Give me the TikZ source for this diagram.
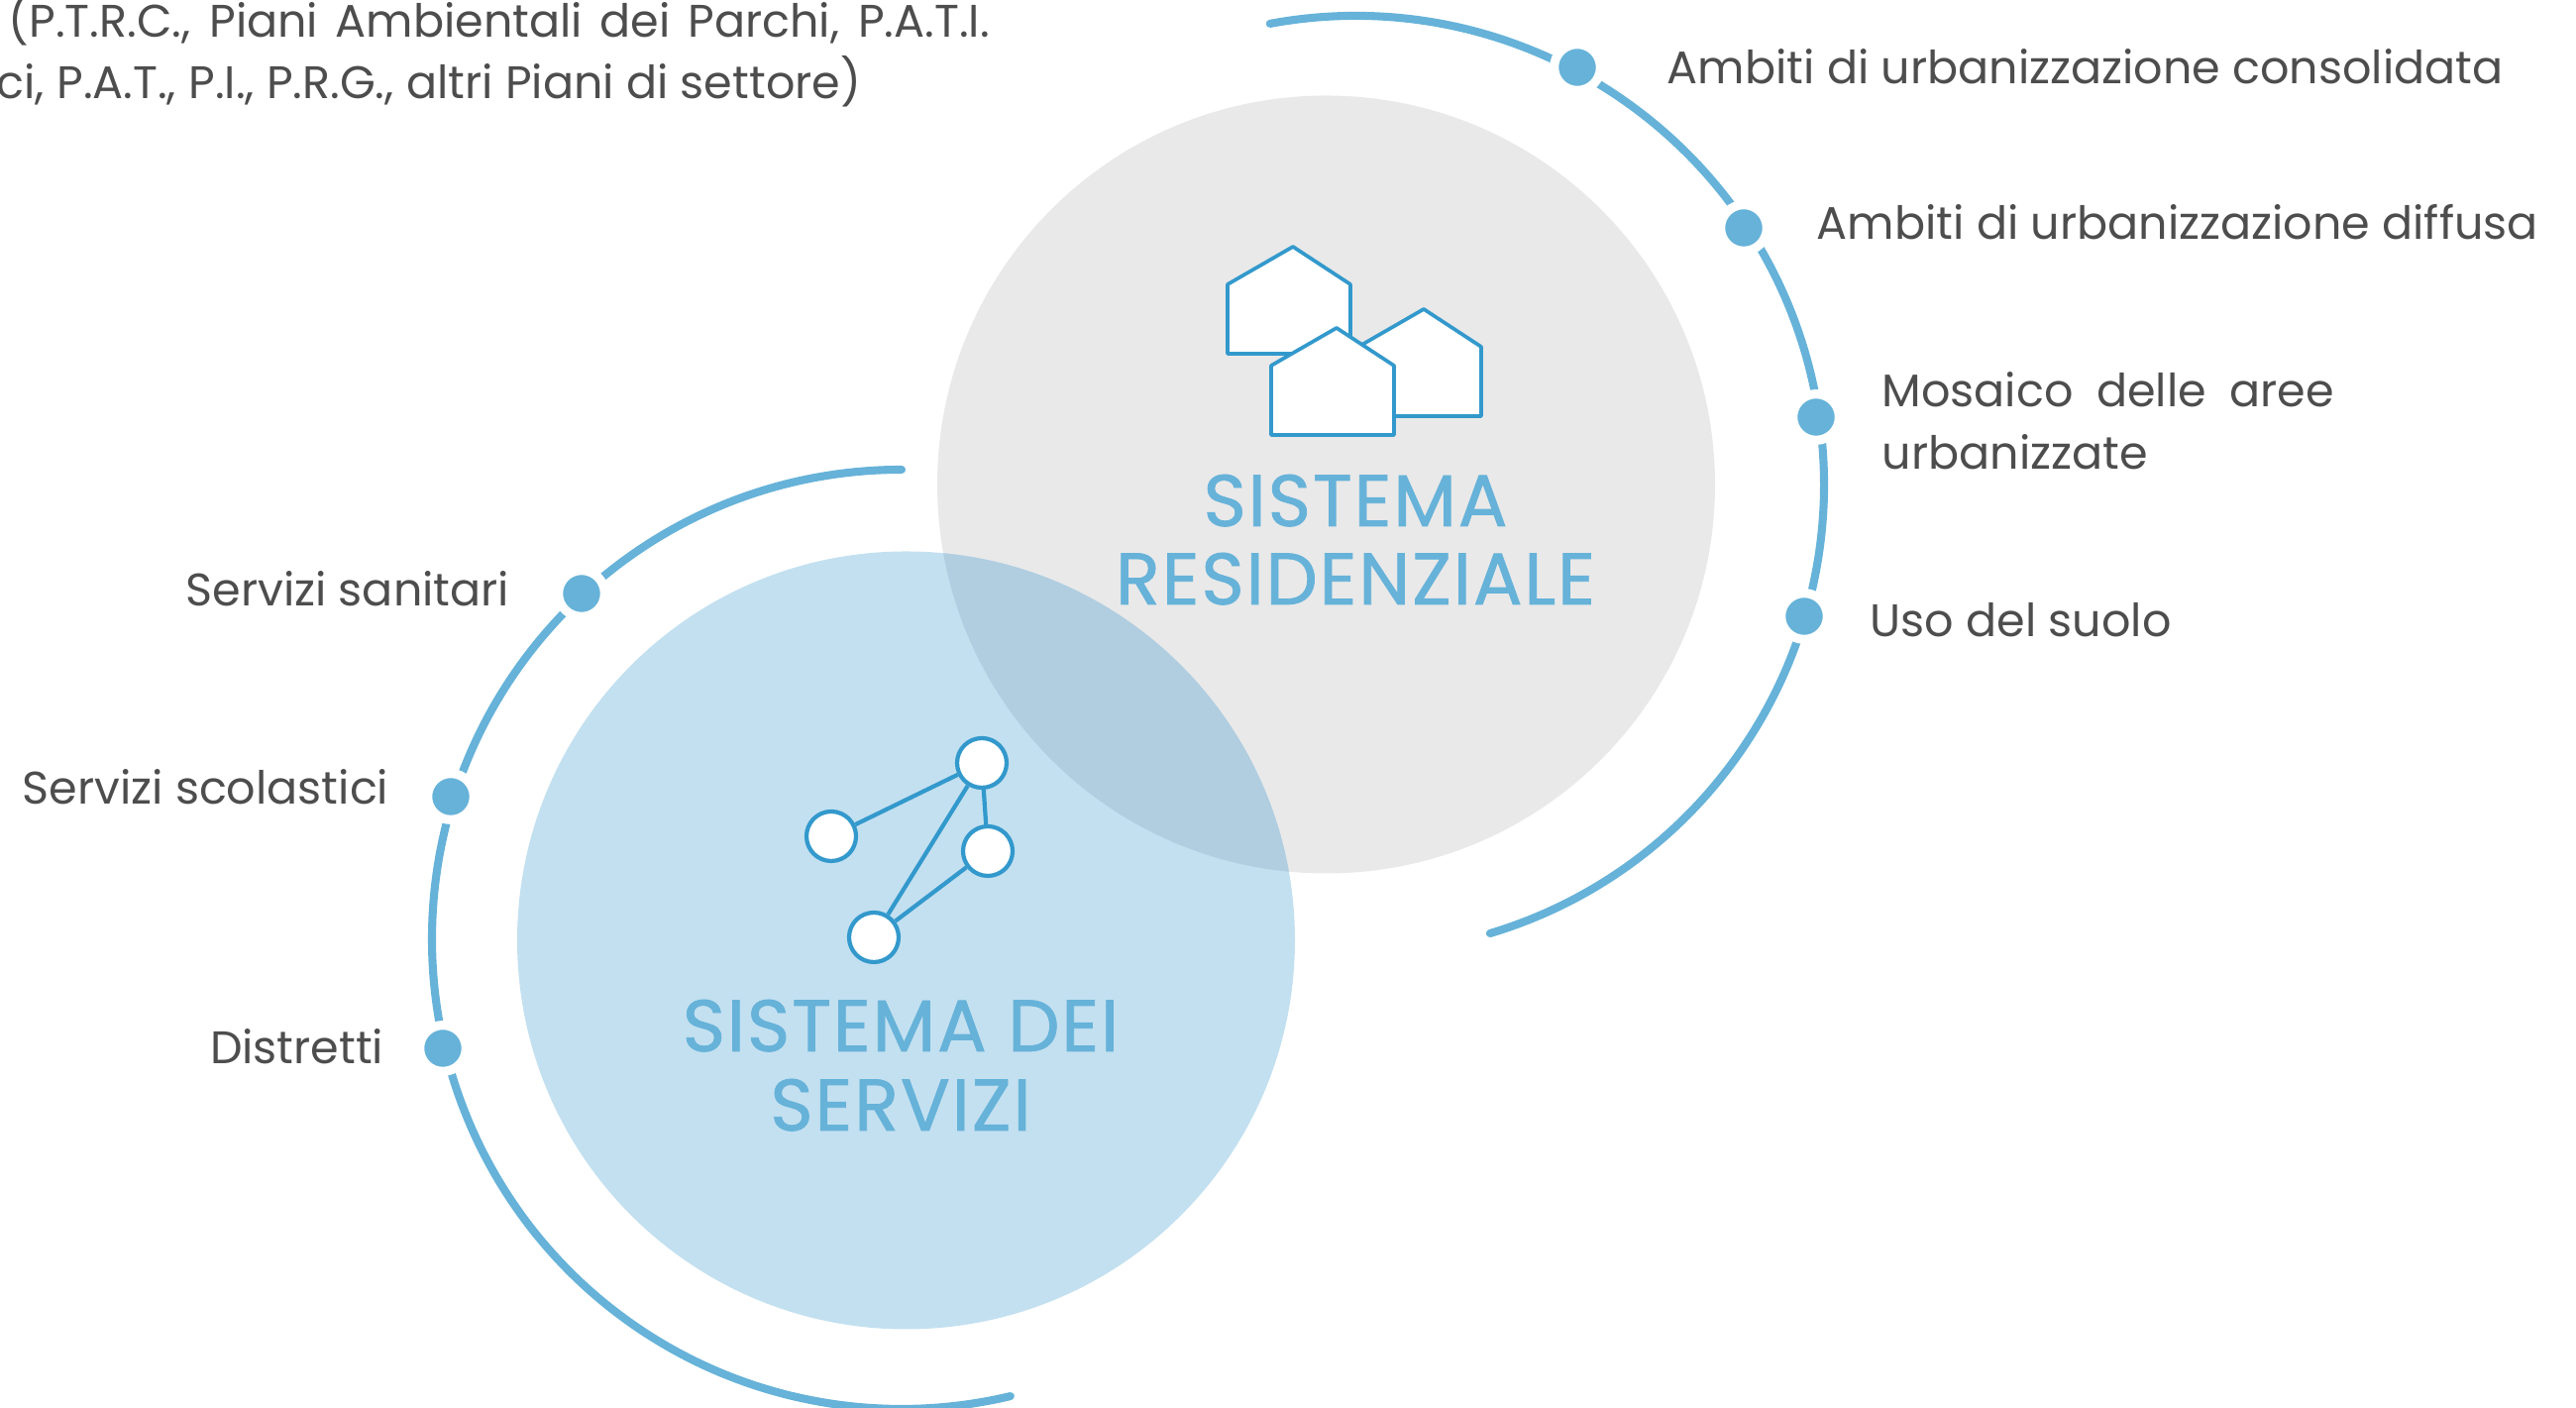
\documentclass[tikz,border=0pt]{standalone}
\usepackage{fontspec}
\setmainfont{Poppins}
\newfontfamily\headfont[FakeBold=1,LetterSpace=2.5]{Poppins}
\usepackage{tikz}
\definecolor{ringblue}{HTML}{66B2D9}
\definecolor{iconblue}{HTML}{3399CC}
\definecolor{softblue}{HTML}{C3E0F0}
\definecolor{softgrey}{HTML}{E9E9E9}
\definecolor{overlapblue}{HTML}{B1CDE0}
\definecolor{textgrey}{HTML}{4D4D4D}

\tikzset{
  disc/.style={circle,minimum size=7.85cm,inner sep=0pt},
  ringarc/.style={draw=ringblue,line width=2.3pt,line cap=round},
  ringdot/.style={circle,fill=ringblue,draw=white,line width=2.6pt,minimum size=1.46*0.32cm,inner sep=0pt},
  lbl/.style={text=textgrey,font=\fontsize{13.1}{17.9}\selectfont,inner sep=0pt},
  lblleft/.style={lbl,anchor=base east},
  lblright/.style={lbl,anchor=base west},
  heading/.style={text=ringblue,font=\headfont\fontsize{21}{22.6}\selectfont,inner sep=0pt,anchor=base},
  housebox/.style={draw=iconblue,fill=white,line width=1.05pt,line join=round},
  netnode/.style={circle,draw=iconblue,fill=white,line width=1.2pt,minimum size=0.5cm,inner sep=0pt},
  netedge/.style={draw=iconblue,line width=1.2pt}
}

\begin{document}
\begin{tikzpicture}

  \useasboundingbox (0,0) rectangle (26,14.21);
  \clip (0,0) rectangle (26,14.21);

  % the two systems
  \node [disc,fill=softgrey] (residenziale) at (13.385,9.32) {};
  \node [disc,fill=softblue] (servizi) at (9.145,4.72) {};
  \begin{scope}
    \clip (13.385,9.32) circle (3.925);
    \fill[overlapblue] (9.145,4.72) circle (3.925);
  \end{scope}

  \coordinate (resring) at (13.68,9.32);
  \coordinate (serring) at (9.10,4.73);
  \draw[ringarc] ([shift={(100.5:4.73)}]resring) arc (100.5:-73.3:4.73);
  \draw[ringarc] ([shift={(90:4.74)}]serring) arc (90:283.4:4.74);

  \node [ringdot] (dotconsolidata) at (15.92,13.53) {};
  \node [ringdot] (dotdiffusa)     at (17.60,11.91) {};
  \node [ringdot] (dotmosaico)     at (18.33,10.00) {};
  \node [ringdot] (dotsuolo)       at (18.21,7.99) {};
  \node [ringdot] (dotsanitari)    at (5.87,8.22) {};
  \node [ringdot] (dotscolastici)  at (4.55,6.17) {};
  \node [ringdot] (dotdistretti)   at (4.47,3.63) {};

  \node [lblright] (consolidata) at (16.82,13.36) {Ambiti di urbanizzazione consolidata};
  \node [lblright] (diffusa)     at (18.33,11.79) {Ambiti di urbanizzazione diffusa};
  \node [lblright] (mosaico)     at (18.99,10.10) {\makebox[4.56cm][s]{Mosaico delle aree}};
  \node [lblright] (urbanizzate) at (18.99,9.47) {urbanizzate};
  \node [lblright] (suolo)       at (18.87,7.78) {Uso del suolo};
  \node [lblleft] (sanitari)     at (5.15,8.09) {Servizi sanitari};
  \node [lblleft] (scolastici)   at (3.93,6.09) {Servizi scolastici};
  \node [lblleft] (distretti)    at (3.88,3.47) {Distretti};

  \node [lblright] (piani1) at (0.08,13.83) {\makebox[9.9cm][s]{(P.T.R.C., Piani Ambientali dei Parchi, P.A.T.I.}};
  \node [lblright] (piani2) at (-0.04,13.21) {ci, P.A.T., P.I., P.R.G., altri Piani di settore)};

  \node [heading] (resname1) at (13.68,8.90) {SISTEMA};
  \node [heading] (resname2) at (13.68,8.11) {RESIDENZIALE};
  \node [heading] (sername1) at (9.09,3.60) {SISTEMA DEI};
  \node [heading] (sername2) at (9.09,2.80) {SERVIZI};

  % houses
  \foreach \hx/\hy in {12.39/10.64,13.71/10.01,12.83/9.82}
    \draw[housebox] (\hx,\hy) -- ++(0,0.70) -- ++(0.66,0.38) -- ++(0.58,-0.38) -- ++(0,-0.70) -- cycle;

  % network
  \node [netnode] (net1) at (9.91,6.51) {};
  \node [netnode] (net2) at (8.39,5.77) {};
  \node [netnode] (net3) at (9.97,5.62) {};
  \node [netnode] (net4) at (8.82,4.75) {};
  \path
    (net1) edge [netedge] (net2)
           edge [netedge] (net3)
           edge [netedge] (net4)
    (net3) edge [netedge] (net4)
  ;

\end{tikzpicture}
\end{document}
